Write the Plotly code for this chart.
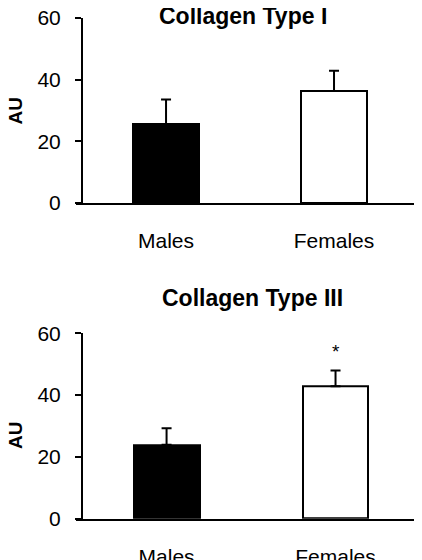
import plotly.graph_objects as go

categories = ["Males", "Females"]
type1_values = [25.5, 36.3]
type1_errors = [8.1, 6.6]
type3_values = [23.9, 42.9]
type3_errors = [5.4, 5.1]
bar_colors = ["black", "white"]
y_ticks = [0, 20, 40, 60]
titles = ["Collagen Type I", "Collagen Type III"]
y_title = "AU"
sig_marker = "*"

# page body has an 8px margin; size the figure to fill the rest of the window
OFF = 8
W, H = 422 - OFF, 560 - OFF
FONT = "Liberation Sans, Arial, sans-serif"

fig = go.Figure()

def add_panel(idx, vals, errs):
    xa = "x" if idx == 1 else f"x{idx}"
    ya = "y" if idx == 1 else f"y{idx}"
    fig.add_trace(go.Bar(
        x=[0, 1], y=vals, width=0.39,
        marker=dict(color=bar_colors, line=dict(color="black", width=2)),
        error_y=dict(type="data", array=errs, arrayminus=[0, 0], symmetric=False,
                     color="black", thickness=2, width=5),
        xaxis=xa, yaxis=ya, showlegend=False,
    ))

add_panel(1, type1_values, type1_errors)
add_panel(2, type3_values, type3_errors)

def px_x(p):
    return (p - OFF) / W

def px_y(p):
    return 1 - (p - OFF) / H

xcommon = dict(range=[-0.536, 1.494], tickvals=[0, 1], ticktext=categories,
               showline=True, linecolor="black", linewidth=2, ticks="",
               showgrid=False, zeroline=False, fixedrange=True, automargin=False,
               tickfont=dict(family=FONT, size=21, color="black"),
               ticklabelstandoff=18, ticklabeloverflow="allow")
ycommon = dict(range=[0, 60], tickvals=y_ticks, showline=True, linecolor="black",
               linewidth=2, ticks="outside", ticklen=6, tickwidth=2, tickcolor="black",
               showgrid=False, zeroline=False, fixedrange=True, automargin=False,
               tickfont=dict(family=FONT, size=21, color="black"),
               ticklabelstandoff=10, ticklabeloverflow="allow",
               anchor="free", position=px_x(82))

fig.update_layout(
    width=W, height=H,
    margin=dict(l=0, r=0, t=0, b=0, autoexpand=False),
    paper_bgcolor="white", plot_bgcolor="white",
    bargap=0,
    xaxis=dict(domain=[px_x(76), px_x(417)], anchor="y", **xcommon),
    yaxis=dict(domain=[px_y(203), px_y(18)], **ycommon),
    xaxis2=dict(domain=[px_x(76), px_x(419)], anchor="y2", **xcommon),
    yaxis2=dict(domain=[px_y(518.7), px_y(333.3)], **ycommon),
)

annotations = [
    dict(text=f"<b>{titles[0]}</b>", x=px_x(243), y=px_y(16), xref="paper", yref="paper",
         showarrow=False, font=dict(family=FONT, size=23, color="black"),
         xanchor="center", yanchor="middle"),
    dict(text=f"<b>{titles[1]}</b>", x=px_x(253), y=px_y(298), xref="paper", yref="paper",
         showarrow=False, font=dict(family=FONT, size=23, color="black"),
         xanchor="center", yanchor="middle"),
    dict(text=f"<b>{y_title}</b>", x=px_x(15), y=px_y(111.5), xref="paper", yref="paper",
         showarrow=False, textangle=-90, font=dict(family=FONT, size=19, color="black"),
         xanchor="center", yanchor="middle"),
    dict(text=f"<b>{y_title}</b>", x=px_x(15), y=px_y(436), xref="paper", yref="paper",
         showarrow=False, textangle=-90, font=dict(family=FONT, size=19, color="black"),
         xanchor="center", yanchor="middle"),
    dict(text=sig_marker, x=1, y=type3_values[1] + type3_errors[1], xref="x2", yref="y2",
         showarrow=False, font=dict(family=FONT, size=19, color="black"),
         xanchor="center", yanchor="bottom", yshift=6),
]
fig.update_layout(annotations=annotations)

fig.write_html("out.html")
